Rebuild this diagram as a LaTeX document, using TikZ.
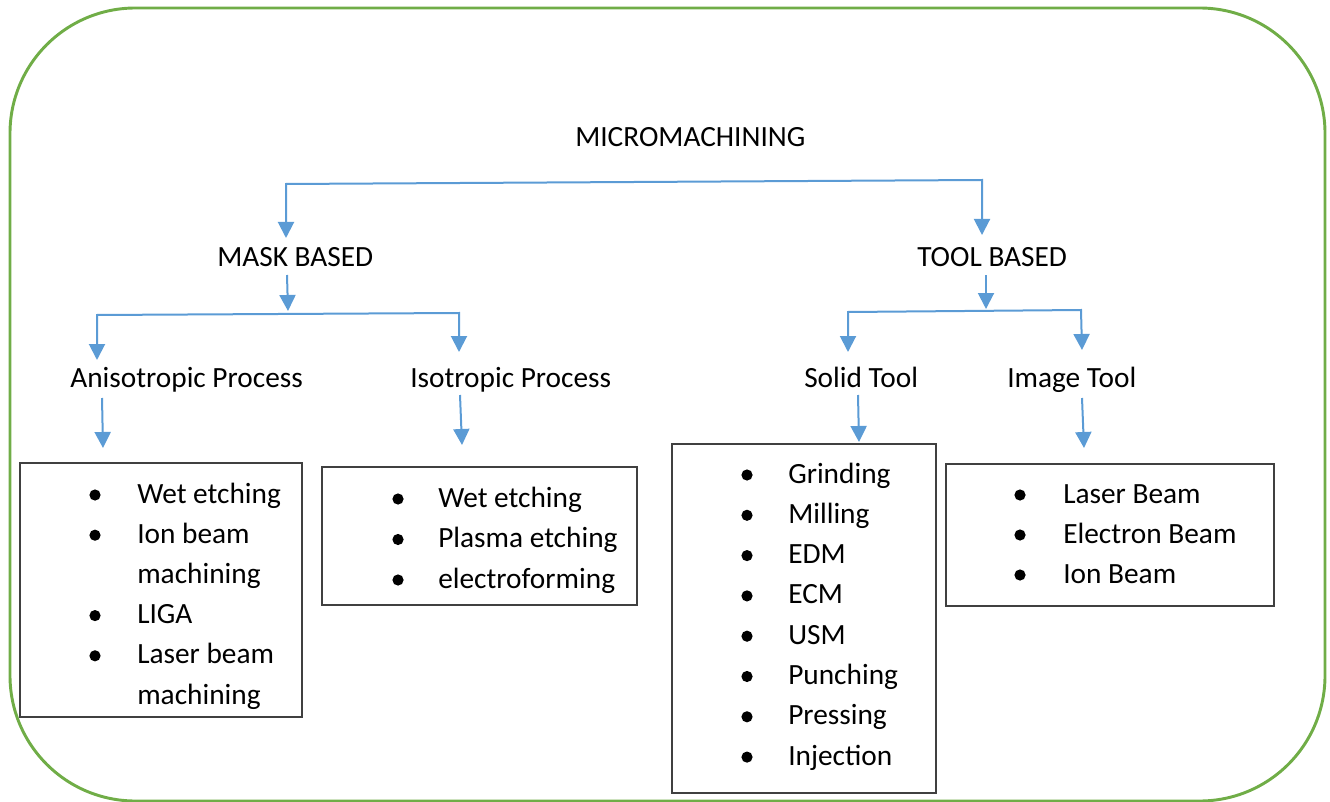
\documentclass[tikz,border=0pt]{standalone}
\usepackage{fontspec}
\setmainfont{Carlito}
\usetikzlibrary{arrows.meta,fit}
\definecolor{framegreen}{HTML}{70AD47}
\definecolor{flowblue}{HTML}{5B9BD5}
\definecolor{boxgray}{HTML}{404040}
\tikzset{
  head/.style={anchor=base west, inner sep=0pt, font=\fontsize{22}{30}\selectfont},
  item/.style={anchor=base west, inner sep=0pt, font=\fontsize{22}{30}\selectfont},
  flow/.style={draw=flowblue, line width=1.5pt, -{Triangle[width=12pt,length=12pt]}},
  listbox/.style={draw=boxgray, line width=1.1pt, inner sep=0pt},
}
\newcommand{\bul}[1]{\fill #1 circle (4.2pt);}
\begin{document}
\begin{tikzpicture}[x=0.75pt, y=-0.75pt]
    \useasboundingbox (0,0) rectangle (1330,802);
    % outer frame
    \draw[framegreen, line width=2.2pt, rounded corners=94pt] (10,8) rectangle (1325,801);

    % headings
    \node[head] (micro) at (575,147) {MICROMACHINING};
    \node[head] (mask) at (217,267) {MASK BASED};
    \node[head] (tool) at (917,267) {TOOL BASED};
    \node[head] (aniso) at (70,387) {Anisotropic Process};
    \node[head] (iso) at (410,387) {Isotropic Process};
    \node[head] (solid) at (804,387) {Solid Tool};
    \node[head] (image) at (1007,387) {Image Tool};

    % boxes
    \node[listbox, fit={(20,463) (302,717)}] (anibox) {};
    \node[listbox, fit={(322,467) (637,605)}] (isobox) {};
    \node[listbox, fit={(672,444) (936,793)}] (solidbox) {};
    \node[listbox, fit={(946,464) (1274,606)}] (imagebox) {};

    % connector ends
    \coordinate (topl) at (286,184);
    \coordinate (topr) at (982,180);
    \coordinate (maskin) at (286,238);
    \coordinate (toolin) at (982,235);
    \coordinate (maskout) at (287,275);
    \coordinate (maskjoin) at (288,311);
    \coordinate (maskl) at (97,315);
    \coordinate (maskr) at (459,313);
    \coordinate (anisoin) at (97,360);
    \coordinate (isoin) at (459,352);
    \coordinate (toolout) at (986,275);
    \coordinate (tooljoin) at (986,309);
    \coordinate (tooll) at (848,312);
    \coordinate (toolr) at (1081,310);
    \coordinate (solidin) at (848,352);
    \coordinate (imagein) at (1082,350);
    \coordinate (anisoout) at (102,398);
    \coordinate (anisobox) at (103,448);
    \coordinate (isoout) at (460,395);
    \coordinate (isobox) at (462,445);
    \coordinate (solidout) at (858,395);
    \coordinate (solidbx) at (859,442);
    \coordinate (imageout) at (1082,398);
    \coordinate (imagebx) at (1084,448);

    % arrows
    \draw[flow, {Triangle[width=12pt,length=12pt]}-{Triangle[width=12pt,length=12pt]}] (maskin) -- (topl) -- (topr) -- (toolin);
    \draw[flow] (maskout) -- (maskjoin);
    \draw[flow, {Triangle[width=12pt,length=12pt]}-{Triangle[width=12pt,length=12pt]}] (anisoin) -- (maskl) -- (maskr) -- (isoin);
    \draw[flow] (toolout) -- (tooljoin);
    \draw[flow, {Triangle[width=12pt,length=12pt]}-{Triangle[width=12pt,length=12pt]}] (solidin) -- (tooll) -- (toolr) -- (imagein);
    \draw[flow] (anisoout) -- (anisobox);
    \draw[flow] (isoout) -- (isobox);
    \draw[flow] (solidout) -- (solidbx);
    \draw[flow] (imageout) -- (imagebx);

    % lists
    \foreach \t/\b [count=\i from 0] in {Wet etching/1, Ion beam/1, machining/0, LIGA/1, Laser beam/1, machining/0} {
        \ifnum\b=1 \bul{(95,{495+40.2*\i})}\fi
        \node[item] (ani-\i) at (137,{503+40.2*\i}) {\t};
    }
    \foreach \t [count=\i from 0] in {Wet etching, Plasma etching, electroforming} {
        \bul{(398,{499+40.5*\i})}
        \node[item] (iso-\i) at (438,{507+40.5*\i}) {\t};
    }
    \foreach \t [count=\i from 0] in {Grinding, Milling, EDM, ECM, USM, Punching, Pressing, Injection} {
        \bul{(747,{475+40.3*\i})}
        \node[item] (solid-\i) at (788,{483+40.3*\i}) {\t};
    }
    \foreach \t [count=\i from 0] in {Laser Beam, Electron Beam, Ion Beam} {
        \bul{(1020,{495+40*\i})}
        \node[item] (image-\i) at (1063,{503+40*\i}) {\t};
    }
\end{tikzpicture}
\end{document}
